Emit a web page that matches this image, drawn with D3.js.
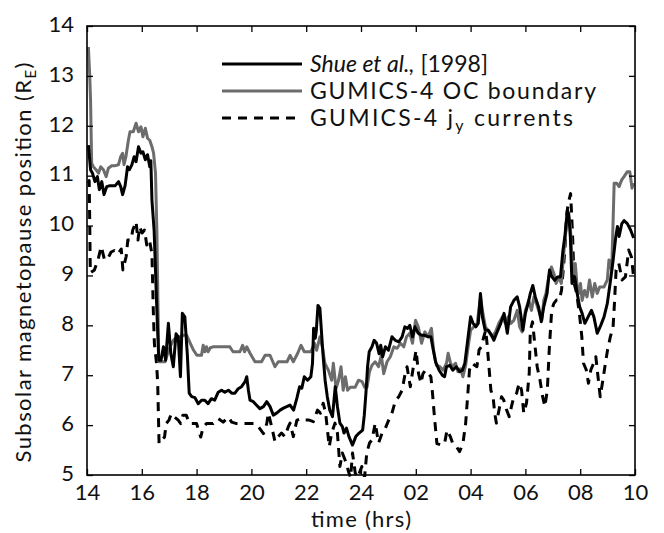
<!DOCTYPE html>
<html>
<head>
<meta charset="utf-8">
<script src="https://cdn.jsdelivr.net/npm/d3@7"></script>
<style>
  html, body { margin: 0; padding: 0; background: #fff; }
  svg text { font-family: "Lato", "Open Sans", sans-serif; fill: #111; }
</style>
</head>
<body>
<svg id="chart" width="664" height="533"></svg>
<script>
// Time axis: hours since 00 UT of day 1 (values past 24 run into the next day)
const xTickValues = [14, 16, 18, 20, 22, 24, 26, 28, 30, 32, 34];
const xTickLabels = ["14", "16", "18", "20", "22", "24", "02", "04", "06", "08", "10"];
const yTickValues = [5, 6, 7, 8, 9, 10, 11, 12, 13, 14];

// Shue et al. [1998] model subsolar distance  [time (h), R_E]
const shueSeries = [
  [14.05,11.61],[14.13,11.12],[14.2,11.05],[14.29,10.88],[14.38,10.98],[14.45,10.72],[14.54,10.88],
  [14.62,10.62],[14.72,10.78],[14.84,10.8],[15.03,10.8],[15.15,10.88],[15.23,10.78],[15.3,10.62],
  [15.39,10.8],[15.48,11.18],[15.55,11.12],[15.64,11.22],[15.72,11.38],[15.79,11.28],[15.88,11.58],
  [15.97,11.45],[16.04,11.48],[16.13,11.32],[16.21,11.42],[16.29,11.18],[16.33,11.3],[16.37,10.51],
  [16.45,9.9],[16.55,8.3],[16.62,7.3],[16.7,7.3],[16.79,7.57],[16.87,7.3],[16.97,8.04],[17.06,7.43],
  [17.15,7.17],[17.25,7.83],[17.33,7.77],[17.41,6.97],[17.48,8.24],[17.57,8.17],[17.66,7.43],
  [17.73,6.64],[17.82,6.57],[17.94,6.55],[18.06,6.43],[18.18,6.5],[18.3,6.5],[18.42,6.43],
  [18.54,6.53],[18.66,6.5],[18.79,6.66],[18.91,6.7],[19.03,6.66],[19.16,6.7],[19.28,6.64],
  [19.4,6.64],[19.52,6.73],[19.64,6.77],[19.77,6.87],[19.83,6.97],[19.89,6.7],[19.95,6.5],
  [20.07,6.47],[20.19,6.4],[20.31,6.33],[20.44,6.37],[20.56,6.47],[20.68,6.37],[20.8,6.2],
  [20.92,6.24],[21.05,6.3],[21.17,6.34],[21.29,6.37],[21.41,6.4],[21.54,6.3],[21.66,6.54],
  [21.76,6.77],[21.84,6.74],[21.93,6.97],[22.05,6.9],[22.17,6.97],[22.23,7.24],[22.27,7.94],
  [22.33,7.74],[22.37,7.9],[22.43,8.4],[22.5,8.34],[22.57,7.77],[22.62,7.37],[22.69,6.9],
  [22.77,6.57],[22.86,6.3],[22.96,6.17],[23.06,6.77],[23.14,6.37],[23.23,6.04],[23.32,5.97],
  [23.38,5.84],[23.47,5.94],[23.56,5.77],[23.69,5.6],[23.81,5.77],[23.93,5.84],[24.06,5.9],
  [24.12,6.2],[24.18,6.64],[24.24,7.17],[24.3,7.47],[24.4,7.57],[24.48,7.7],[24.57,7.64],
  [24.66,7.43],[24.72,7.6],[24.79,7.37],[24.89,7.57],[25.0,7.5],[25.13,7.77],[25.25,7.7],
  [25.38,7.67],[25.5,7.77],[25.6,7.97],[25.7,7.94],[25.78,8.0],[25.88,7.77],[25.97,7.97],
  [26.09,7.84],[26.21,7.8],[26.33,7.8],[26.45,7.77],[26.55,7.77],[26.64,7.5],[26.72,7.27],
  [26.85,7.1],[26.97,7.0],[27.05,6.97],[27.12,7.17],[27.24,7.2],[27.35,7.1],[27.48,7.17],
  [27.6,7.07],[27.7,7.1],[27.79,7.24],[27.91,7.77],[28.0,8.17],[28.09,8.04],[28.19,7.97],
  [28.28,8.04],[28.36,8.64],[28.43,8.17],[28.53,7.9],[28.65,7.9],[28.77,7.8],[28.85,7.7],
  [28.97,7.87],[29.1,8.04],[29.22,8.24],[29.34,7.84],[29.46,8.37],[29.58,8.5],[29.7,8.57],
  [29.79,8.37],[29.91,7.9],[30.0,8.24],[30.1,8.44],[30.18,8.64],[30.27,8.8],[30.36,8.57],
  [30.48,8.37],[30.58,8.07],[30.67,8.37],[30.79,8.64],[30.88,9.11],[30.97,8.97],[31.07,8.9],
  [31.17,8.97],[31.28,8.97],[31.37,9.5],[31.44,9.78],[31.53,10.3],[31.58,10.24],[31.64,9.78],
  [31.7,8.84],[31.8,8.97],[31.89,8.64],[31.98,8.37],[32.07,8.24],[32.17,8.04],[32.29,8.17],
  [32.41,8.3],[32.5,8.17],[32.62,7.84],[32.75,8.0],[32.87,8.17],[32.99,8.44],[33.09,8.84],
  [33.2,9.3],[33.3,9.78],[33.36,9.98],[33.42,9.78],[33.52,10.04],[33.6,10.1],[33.72,10.04],
  [33.84,9.91],[33.95,9.75]
];

// GUMICS-4 open/closed field-line boundary  [time (h), R_E]
const ocSeries = [
  [14.05,13.58],[14.1,13.0],[14.13,12.51],[14.17,11.25],[14.23,11.18],[14.33,11.12],[14.42,11.05],
  [14.5,11.18],[14.6,11.12],[14.7,10.98],[14.78,11.15],[14.9,11.2],[15.03,11.2],[15.15,11.22],
  [15.23,11.38],[15.3,11.45],[15.35,11.22],[15.42,11.38],[15.51,11.71],[15.57,11.88],[15.69,11.88],
  [15.79,12.05],[15.88,11.88],[15.97,11.98],[16.04,11.78],[16.13,11.95],[16.21,11.75],[16.29,11.71],
  [16.37,11.58],[16.43,11.45],[16.5,11.05],[16.55,9.9],[16.62,7.27],[16.72,7.27],[16.85,7.27],
  [16.95,7.45],[17.03,7.57],[17.15,7.7],[17.28,7.77],[17.4,7.77],[17.52,7.8],[17.64,7.8],
  [17.77,7.64],[17.89,7.5],[18.01,7.4],[18.18,7.4],[18.24,7.6],[18.3,7.47],[18.36,7.57],
  [18.42,7.47],[18.5,7.55],[18.6,7.57],[18.8,7.57],[19.0,7.57],[19.21,7.57],[19.33,7.47],
  [19.58,7.47],[19.68,7.6],[19.75,7.47],[19.83,7.57],[19.95,7.44],[20.13,7.27],[20.37,7.27],
  [20.5,7.4],[20.68,7.4],[20.86,7.17],[20.98,7.27],[21.3,7.27],[21.41,7.4],[21.53,7.27],
  [21.69,7.44],[21.81,7.6],[21.93,7.47],[22.17,7.47],[22.3,7.64],[22.38,7.5],[22.5,7.77],
  [22.6,7.54],[22.68,7.24],[22.81,7.1],[22.93,6.9],[22.99,7.24],[23.09,6.73],[23.18,6.9],
  [23.27,7.17],[23.35,6.7],[23.43,6.97],[23.51,6.7],[23.61,6.76],[23.79,6.76],[23.91,6.9],
  [24.04,6.87],[24.13,6.76],[24.22,6.76],[24.31,7.07],[24.4,7.2],[24.52,7.27],[24.64,7.17],
  [24.74,7.4],[24.83,7.03],[24.95,7.27],[25.07,7.37],[25.2,7.57],[25.32,7.54],[25.44,7.64],
  [25.56,7.57],[25.66,7.77],[25.78,7.84],[25.88,7.64],[25.99,8.1],[26.09,7.97],[26.21,7.64],
  [26.33,7.87],[26.45,7.77],[26.57,7.94],[26.65,7.5],[26.75,7.2],[26.88,7.17],[27.0,7.1],
  [27.12,7.24],[27.18,7.44],[27.27,7.24],[27.35,7.17],[27.45,7.24],[27.54,7.07],[27.63,7.13],
  [27.72,6.97],[27.82,7.2],[27.91,7.57],[28.0,7.9],[28.12,7.97],[28.24,8.04],[28.3,8.3],
  [28.36,8.57],[28.45,8.24],[28.54,7.97],[28.67,7.87],[28.79,7.77],[28.91,7.87],[29.03,8.04],
  [29.16,8.17],[29.27,8.04],[29.37,8.17],[29.47,8.04],[29.58,8.1],[29.7,8.3],[29.79,7.97],
  [29.88,7.87],[30.0,8.3],[30.12,8.5],[30.22,8.3],[30.31,8.57],[30.4,8.44],[30.48,8.3],
  [30.6,8.1],[30.67,8.5],[30.75,8.64],[30.85,8.97],[30.95,9.17],[31.04,9.04],[31.12,8.84],
  [31.22,8.97],[31.31,8.84],[31.4,9.44],[31.48,9.91],[31.56,10.24],[31.64,10.0],[31.7,9.3],
  [31.76,9.04],[31.82,9.24],[31.89,8.77],[31.95,8.64],[32.01,8.84],[32.07,8.5],[32.16,8.7],
  [32.25,8.57],[32.34,8.91],[32.44,8.57],[32.53,8.84],[32.62,8.64],[32.71,8.77],[32.87,8.77],
  [32.99,8.91],[33.05,9.31],[33.15,9.11],[33.24,10.85],[33.33,10.85],[33.42,10.78],[33.51,10.91],
  [33.6,10.98],[33.72,11.08],[33.81,11.08],[33.89,10.75],[33.95,10.85]
];

// GUMICS-4 magnetopause from the j_y current maximum  [time (h), R_E]
const jySeries = [
  [14.05,10.85],[14.08,10.9],[14.1,10.04],[14.12,9.05],[14.27,9.11],[14.4,9.31],[14.52,9.58],
  [14.64,9.31],[14.76,9.34],[14.88,9.47],[15.0,9.5],[15.13,9.43],[15.25,9.53],[15.31,9.11],
  [15.43,9.38],[15.49,9.71],[15.61,9.71],[15.67,9.91],[15.79,10.08],[15.86,9.71],[15.92,9.98],
  [16.01,9.85],[16.1,9.91],[16.18,9.61],[16.28,9.71],[16.37,9.43],[16.42,8.29],[16.46,7.63],
  [16.54,7.23],[16.58,6.83],[16.63,5.63],[16.71,5.7],[16.83,5.76],[16.89,6.03],[16.99,6.1],
  [17.08,6.23],[17.2,6.16],[17.33,6.1],[17.42,6.03],[17.5,6.2],[17.62,6.2],[17.75,6.03],
  [18.0,6.03],[18.15,5.76],[18.24,5.96],[18.36,6.03],[18.6,6.03],[18.79,6.13],[18.97,6.06],
  [19.16,6.16],[19.28,6.06],[19.46,6.03],[19.7,6.03],[19.95,6.03],[20.13,6.03],[20.25,5.97],
  [20.44,5.83],[20.56,6.03],[20.62,6.24],[20.74,5.97],[20.86,5.67],[20.98,5.77],[21.1,5.84],
  [21.22,5.77],[21.35,5.97],[21.41,6.04],[21.53,5.77],[21.66,6.1],[21.84,6.13],[21.97,6.1],
  [22.11,6.1],[22.26,6.07],[22.41,6.3],[22.52,6.24],[22.62,6.44],[22.71,6.24],[22.84,5.57],
  [22.93,5.84],[23.05,6.04],[23.14,5.84],[23.23,5.17],[23.32,5.44],[23.42,5.3],[23.56,5.04],
  [23.62,4.95],[23.69,5.44],[23.79,5.04],[23.88,4.95],[24.03,5.17],[24.13,4.95],[24.21,5.44],
  [24.31,5.64],[24.4,5.7],[24.52,6.04],[24.64,5.64],[24.77,5.84],[24.89,5.94],[25.01,6.1],
  [25.13,6.24],[25.26,6.5],[25.38,6.57],[25.5,6.7],[25.59,6.97],[25.68,7.17],[25.8,6.77],
  [25.93,7.24],[26.01,7.5],[26.1,7.03],[26.19,6.84],[26.26,7.03],[26.35,7.1],[26.46,7.03],
  [26.55,6.97],[26.6,6.7],[26.68,6.17],[26.77,5.63],[26.93,5.6],[27.05,5.63],[27.14,5.9],
  [27.26,5.77],[27.35,5.63],[27.48,5.57],[27.6,5.47],[27.72,5.63],[27.82,6.04],[27.9,6.64],
  [27.96,7.11],[28.06,7.24],[28.15,7.2],[28.23,7.17],[28.31,7.51],[28.39,7.57],[28.48,7.77],
  [28.55,7.9],[28.6,7.64],[28.67,7.17],[28.74,6.7],[28.82,6.57],[28.88,6.24],[28.94,6.04],
  [29.04,6.31],[29.13,6.57],[29.21,6.5],[29.31,6.31],[29.41,6.17],[29.49,6.37],[29.58,6.57],
  [29.68,6.64],[29.77,6.84],[29.86,6.7],[29.94,6.24],[30.04,6.44],[30.14,7.04],[30.18,7.9],
  [30.26,8.07],[30.34,7.64],[30.43,7.17],[30.53,6.91],[30.63,6.57],[30.71,6.37],[30.8,6.7],
  [30.87,7.51],[30.96,8.31],[31.04,8.44],[31.14,8.51],[31.24,8.51],[31.32,8.71],[31.38,9.11],
  [31.44,9.51],[31.5,10.18],[31.56,10.44],[31.65,10.64],[31.72,9.84],[31.78,8.84],[31.87,8.64],
  [31.97,8.24],[32.06,7.77],[32.12,7.24],[32.22,7.11],[32.3,6.84],[32.39,7.11],[32.49,7.24],
  [32.57,7.37],[32.65,6.97],[32.73,6.57],[32.83,6.91],[32.92,7.24],[33.0,7.51],[33.1,7.77],
  [33.2,7.97],[33.25,8.44],[33.31,9.11],[33.41,9.24],[33.53,8.91],[33.65,8.97],[33.77,9.51],
  [33.87,9.37],[33.96,8.91]
];

const svg = d3.select("#chart");
const margin = { left: 87, right: 29, top: 26, bottom: 58 };
const W = 664, H = 533;
const plotW = W - margin.left - margin.right;
const plotH = H - margin.top - margin.bottom;

const x = d3.scaleLinear().domain([14, 34]).range([margin.left, margin.left + plotW]);
const y = d3.scaleLinear().domain([5, 14]).range([margin.top + plotH, margin.top]);

svg.append("defs").append("clipPath").attr("id", "plotClip")
  .append("rect")
  .attr("x", margin.left).attr("y", margin.top)
  .attr("width", plotW).attr("height", plotH + 2);

const line = d3.line().x(d => x(d[0])).y(d => y(d[1]));

const curves = svg.append("g").attr("clip-path", "url(#plotClip)")
  .attr("fill", "none").attr("stroke-linejoin", "round");

curves.append("path").datum(jySeries).attr("d", line)
  .attr("stroke", "#000").attr("stroke-width", 3).attr("stroke-dasharray", "9,7");
curves.append("path").datum(ocSeries).attr("d", line)
  .attr("stroke", "#6c6c6c").attr("stroke-width", 3);
curves.append("path").datum(shueSeries).attr("d", line)
  .attr("stroke", "#000").attr("stroke-width", 3);

// Boxed axes with inward ticks on all four sides
const tickLen = 6;
const fmtX = (v) => xTickLabels[xTickValues.indexOf(v)];

svg.append("g").attr("transform", `translate(0,${margin.top + plotH})`)
  .call(d3.axisBottom(x).tickValues(xTickValues).tickFormat(fmtX).tickSizeInner(-tickLen).tickSizeOuter(0).tickPadding(9))
  .call(g => g.select(".domain").remove());
svg.append("g").attr("transform", `translate(0,${margin.top})`)
  .call(d3.axisTop(x).tickValues(xTickValues).tickFormat("").tickSizeInner(-tickLen).tickSizeOuter(0))
  .call(g => g.select(".domain").remove());
const yAxisG = svg.append("g").attr("transform", `translate(${margin.left},0)`)
  .call(d3.axisLeft(y).tickValues(yTickValues).tickFormat(d3.format("d")).tickSizeInner(-tickLen).tickSizeOuter(0).tickPadding(13))
  .call(g => g.select(".domain").remove());
yAxisG.selectAll(".tick text").attr("dy", "0.24em");
svg.append("g").attr("transform", `translate(${margin.left + plotW},0)`)
  .call(d3.axisRight(y).tickValues(yTickValues).tickFormat("").tickSizeInner(-tickLen).tickSizeOuter(0))
  .call(g => g.select(".domain").remove());

svg.selectAll(".tick line").attr("stroke", "#000").attr("stroke-width", 1.3);
svg.selectAll(".tick text").attr("font-size", 22).attr("fill", "#111")
  .attr("font-family", "Lato, 'Open Sans', sans-serif");

svg.append("rect")
  .attr("x", margin.left).attr("y", margin.top)
  .attr("width", plotW).attr("height", plotH)
  .attr("fill", "none").attr("stroke", "#000").attr("stroke-width", 1.6);

// Axis titles
svg.append("text")
  .attr("x", margin.left + plotW / 2).attr("y", 527)
  .attr("text-anchor", "middle").attr("font-size", 22)
  .attr("textLength", 100).attr("lengthAdjust", "spacing")
  .text("time (hrs)");

const yLab = svg.append("text")
  .attr("transform", `translate(31,${margin.top + plotH / 2 + 12}) rotate(-90)`)
  .attr("text-anchor", "middle").attr("font-size", 22)
  .attr("textLength", 400).attr("lengthAdjust", "spacing");
yLab.append("tspan").text("Subsolar magnetopause position (R");
yLab.append("tspan").attr("font-size", 15).attr("dy", 5).text("E");
yLab.append("tspan").attr("dy", -5).text(")");

// Legend
const legend = svg.append("g");
const legendRows = [
  { y: 64, stroke: "#000", dash: null },
  { y: 91, stroke: "#6c6c6c", dash: null },
  { y: 118, stroke: "#000", dash: "9,7" }
];
legendRows.forEach(r => {
  legend.append("line")
    .attr("x1", 222).attr("x2", 302).attr("y1", r.y).attr("y2", r.y)
    .attr("stroke", r.stroke).attr("stroke-width", 3)
    .attr("stroke-dasharray", r.dash);
});
const t1 = legend.append("text").attr("x", 310).attr("y", 64 + 8).attr("font-size", 23)
  .attr("textLength", 178).attr("lengthAdjust", "spacing");
t1.append("tspan").attr("font-style", "italic").text("Shue et al.,");
t1.append("tspan").text(" [1998]");
legend.append("text").attr("x", 310).attr("y", 91 + 8).attr("font-size", 23)
  .attr("textLength", 286).attr("lengthAdjust", "spacing")
  .text("GUMICS-4 OC boundary");
const t3 = legend.append("text").attr("x", 310).attr("y", 118 + 8).attr("font-size", 23)
  .attr("textLength", 263).attr("lengthAdjust", "spacing");
t3.append("tspan").text("GUMICS-4 j");
t3.append("tspan").attr("font-size", 16).attr("dy", 5).text("y");
t3.append("tspan").attr("dy", -5).text(" currents");
</script>
</body>
</html>
